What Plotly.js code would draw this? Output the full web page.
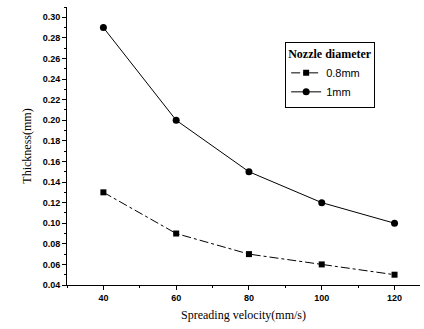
<!DOCTYPE html>
<html><head><meta charset="utf-8">
<script src="https://cdn.plot.ly/plotly-3.0.1.min.js"></script>
<style>body{margin:0;background:#fff}#chart{width:424px;height:329px}</style>
</head><body><div id="chart"></div>
<script>
const velocity = [40, 60, 80, 100, 120];
const thickness08 = [0.13, 0.09, 0.07, 0.06, 0.05];
const thickness1 = [0.29, 0.20, 0.15, 0.12, 0.10];
const seriesNames = ['0.8mm', '1mm'];
const legendTitle = 'Nozzle diameter';
const xTitle = 'Spreading velocity(mm/s)';
const yTitle = 'Thickness(mm)';

const traces = [
  {x: velocity, y: thickness08, name: seriesNames[0], mode: 'lines+markers',
   line: {color: '#000', width: 1, dash: 'dashdot'},
   marker: {symbol: 'square', size: 6, color: '#000'}},
  {x: velocity, y: thickness1, name: seriesNames[1], mode: 'lines+markers',
   line: {color: '#000', width: 1},
   marker: {symbol: 'circle', size: 7, color: '#000'}}
];
const axFont = {family: 'Liberation Sans, Arial, sans-serif', size: 9, color: '#000', weight: 'bold'};
const serif = 'Liberation Serif, Times New Roman, serif';
const layout = {
  width: 424, height: 329,
  margin: {l: 67, r: 4, t: 7, b: 44},
  paper_bgcolor: '#fff', plot_bgcolor: '#fff',
  showlegend: true,
  legend: {
    x: 0.618, y: 0.875, xanchor: 'left', yanchor: 'top',
    bgcolor: '#fff', bordercolor: '#000', borderwidth: 1,
    title: {text: legendTitle, font: {family: serif, size: 12, color: '#000', weight: 'bold'}},
    font: {family: 'Liberation Sans, Arial, sans-serif', size: 11, color: '#000'},
    tracegroupgap: 0, itemwidth: 30
  },
  xaxis: {
    range: [30, 127], tickvals: velocity, ticks: 'outside', ticklen: 4, tickwidth: 1, tickcolor: '#000',
    showline: true, linecolor: '#000', linewidth: 1, showgrid: false, zeroline: false,
    tickfont: axFont,
    minor: {dtick: 10, tick0: 30, ticks: 'outside', ticklen: 2, tickcolor: '#000', showgrid: false},
    title: {text: xTitle, font: {family: serif, size: 12, color: '#000'}, standoff: 8}
  },
  yaxis: {
    range: [0.04, 0.31], dtick: 0.02, tick0: 0.04, tickformat: '.2f', ticks: 'outside', ticklen: 4, tickwidth: 1, tickcolor: '#000',
    showline: true, linecolor: '#000', linewidth: 1, showgrid: false, zeroline: false,
    tickfont: axFont,
    minor: {dtick: 0.01, tick0: 0.04, ticks: 'outside', ticklen: 2, tickcolor: '#000', showgrid: false},
    title: {text: yTitle, font: {family: serif, size: 12, color: '#000'}, standoff: 8}
  }
};
Plotly.newPlot('chart', traces, layout, {staticPlot: true, displayModeBar: false});
</script></body></html>
